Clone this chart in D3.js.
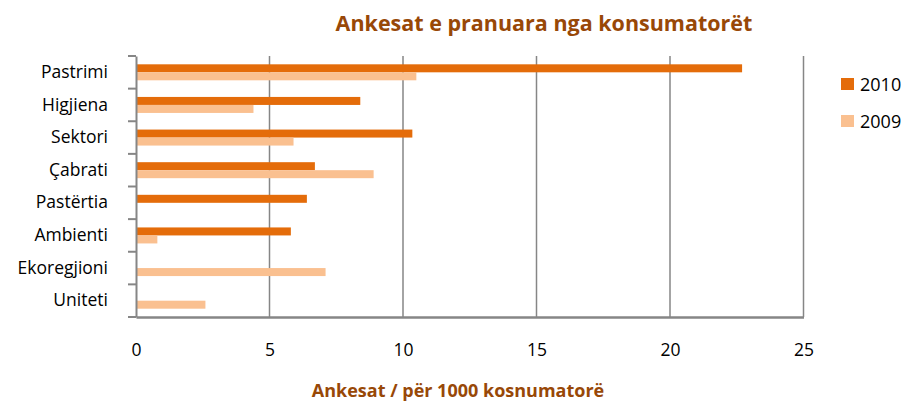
<!DOCTYPE html>
<html><head><meta charset="utf-8">
<script src="https://cdn.jsdelivr.net/npm/d3@7"></script>
<style>body{margin:0;background:#fff}svg{display:block;font-family:"Open Sans",sans-serif}</style>
</head><body><svg id="c" width="909" height="401"></svg>
<script>
const categories = ["Pastrimi","Higjiena","Sektori","Çabrati","Pastërtia","Ambienti","Ekoregjioni","Uniteti"];
const series = ["2010","2009"];
const values2010 = [22.7, 8.4, 10.35, 6.7, 6.4, 5.8, 0, 0];
const values2009 = [10.5, 4.4, 5.9, 8.9, 0, 0.8, 7.1, 2.6];
const xTicks = [0,5,10,15,20,25];
const colors = {"2010":"#E46C0A","2009":"#FAC090"};
const title = "Ankesat e pranuara nga konsumatorët";
const xTitle = "Ankesat / për 1000 kosnumatorë";

const svg = d3.select("#c");
const L=136, R=803.5, T=56, B=317;
const x = d3.scaleLinear().domain([0,25]).range([L,R]);
const y = d3.scaleBand().domain(categories).range([T,B]);
const grey="#868686";
const FONT = "'Open Sans', sans-serif";

// gridlines
svg.append("g").selectAll("line").data(xTicks.slice(1)).join("line")
  .attr("x1",d=>x(d)).attr("x2",d=>x(d)).attr("y1",T).attr("y2",B)
  .attr("stroke",grey).attr("stroke-width",1.5);

// bars
const data = categories.flatMap((c,i)=>[
  {c, s:"2010", v:values2010[i]},
  {c, s:"2009", v:values2009[i]}]);
const bh = 8;
svg.append("g").selectAll("rect").data(data.filter(d=>d.v>0)).join("rect")
  .attr("x",x(0)).attr("width",d=>x(d.v)-x(0))
  .attr("y",d=>y(d.c)+y.bandwidth()/2 + (d.s==="2010"?-bh:0))
  .attr("height",bh).attr("fill",d=>colors[d.s]);

// left axis
const ya = d3.axisLeft(y).tickSize(0).tickPadding(28);
const gy = svg.append("g").attr("transform",`translate(${L},0)`).call(ya);
gy.select(".domain").attr("stroke",grey).attr("stroke-width",2);
gy.selectAll("text").attr("font-size",17.5).attr("fill","#000").attr("font-family",FONT);
svg.append("g").selectAll("line").data(d3.range(categories.length+1)).join("line")
  .attr("x1",L-8).attr("x2",L).attr("y1",i=>T+i*y.step()).attr("y2",i=>T+i*y.step())
  .attr("stroke",grey).attr("stroke-width",2);

// bottom axis
const xa = d3.axisBottom(x).tickValues(xTicks).tickSize(0).tickPadding(27);
const gx = svg.append("g").attr("transform",`translate(0,${B})`).call(xa);
gx.select(".domain").attr("stroke",grey).attr("stroke-width",2.5);
gx.selectAll("text").attr("font-size",17.5).attr("fill","#000").attr("font-family",FONT);

// titles
svg.append("text").attr("x",544).attr("y",31).attr("text-anchor","middle")
  .attr("font-size",21.5).attr("font-weight","bold").attr("fill","#984807").text(title);
svg.append("text").attr("x",458).attr("y",397).attr("text-anchor","middle")
  .attr("font-size",18).attr("font-weight","bold").attr("fill","#984807").text(xTitle);

// legend
const lg = svg.append("g").selectAll("g").data(series).join("g")
  .attr("transform",(d,i)=>`translate(841,${78+i*37})`);
lg.append("rect").attr("width",13).attr("height",12).attr("fill",d=>colors[d]);
lg.append("text").attr("x",19).attr("y",13).attr("font-size",18).attr("fill","#000").text(d=>d);
</script></body></html>
